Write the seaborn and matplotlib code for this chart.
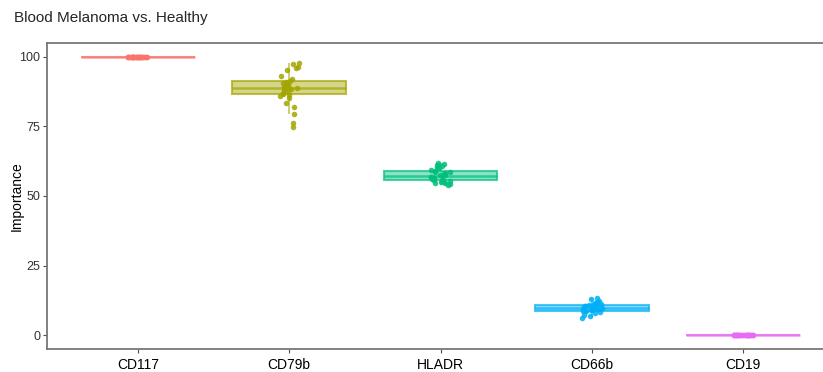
import numpy as np
import pandas as pd
import seaborn as sns
from matplotlib import pyplot as plt
from matplotlib.colors import to_rgba

markers = ['CD117', 'CD79b', 'HLADR', 'CD66b', 'CD19']
colors = ['#F8766D', '#A3A500', '#00BF7D', '#00B0F6', '#E76BF3']

# importance values per marker (one per resampling run)
cd117 = [100.0] * 30
cd79b = [97.9, 97.5, 96.2, 96.0, 95.3, 93.2, 92.0, 91.5, 91.0, 90.6,
         90.2, 89.9, 89.5, 89.3, 89.1, 88.9, 88.6, 88.3, 88.0, 87.6,
         87.2, 86.8, 86.4, 86.0, 85.1, 83.3, 82.1, 79.5, 76.2, 74.7]
hladr = [62.0, 61.6, 61.2, 60.7, 60.3, 59.9, 59.5, 59.1, 58.8, 58.5,
         58.2, 57.9, 57.6, 57.4, 57.2, 57.0, 56.8, 56.6, 56.4, 56.2,
         56.0, 55.8, 55.6, 55.4, 55.2, 55.0, 54.8, 54.5, 54.2, 53.8]
cd66b = [13.5, 12.8, 12.2, 11.8, 11.5, 11.3, 11.1, 10.9, 10.7, 10.5,
         10.3, 10.1, 10.0, 9.9, 9.8, 9.7, 9.6, 9.5, 9.4, 9.2,
         9.0, 8.9, 8.8, 8.7, 8.5, 8.2, 7.8, 7.3, 6.7, 6.0]
cd19 = [0.0] * 30

values = [cd117, cd79b, hladr, cd66b, cd19]
df = pd.concat([pd.DataFrame({'marker': m, 'importance': v})
                for m, v in zip(markers, values)], ignore_index=True)

sns.set_style('white')
plt.rcParams['font.family'] = ['Liberation Sans', 'DejaVu Sans']

fig = plt.figure(figsize=(8.23, 3.72), dpi=100)
ax = fig.add_axes([47 / 823, 23 / 372, (834 - 47) / 823, 306 / 372])

np.random.seed(3)
for m, c in zip(markers, colors):
    sub = df[df['marker'] == m]
    n_patches = len(ax.patches)
    n_lines = len(ax.lines)
    sns.boxplot(data=sub, x='marker', y='importance', order=markers,
                color=c, linecolor=c, width=0.75, showfliers=False,
                linewidth=1.5, ax=ax,
                whiskerprops={'linewidth': 1.1},
                capprops={'linewidth': 0},
                medianprops={'linewidth': 1.8})
    for p in ax.patches[n_patches:]:
        p.set_facecolor(to_rgba(c, 0.45))
        p.set_edgecolor(to_rgba(c, 0.7))
    for ln in ax.lines[n_lines:]:
        ln.set_alpha(0.7)
    sns.stripplot(data=sub, x='marker', y='importance', order=markers,
                  color=c, jitter=0.07, size=4.0, linewidth=0, alpha=0.85,
                  ax=ax)

ax.set_xlim(-0.6, 4.6)
ax.set_ylim(-5, 105)
ax.set_yticks([0, 25, 50, 75, 100])
ax.set_xlabel('')
ax.set_ylabel('Importance', fontsize=10, color='black')
ax.yaxis.set_label_coords(-23 / 787, 0.5)
ax.tick_params(axis='y', labelsize=9, colors='#4d4d4d', length=3, width=0.8,
               direction='out', left=True, labelcolor='#333333', pad=2)
ax.tick_params(axis='x', labelsize=10, length=3, width=0.8, direction='out',
               bottom=True, colors='#4d4d4d', labelcolor='black')
for s in ['left', 'bottom', 'top', 'right']:
    ax.spines[s].set_color('#777777')
    ax.spines[s].set_linewidth(1.3)

fig.text(14 / 823, 1 - 18 / 372, 'Blood Melanoma vs. Healthy', fontsize=11,
         ha='left', va='center')

fig.savefig('out.png', dpi=100)
